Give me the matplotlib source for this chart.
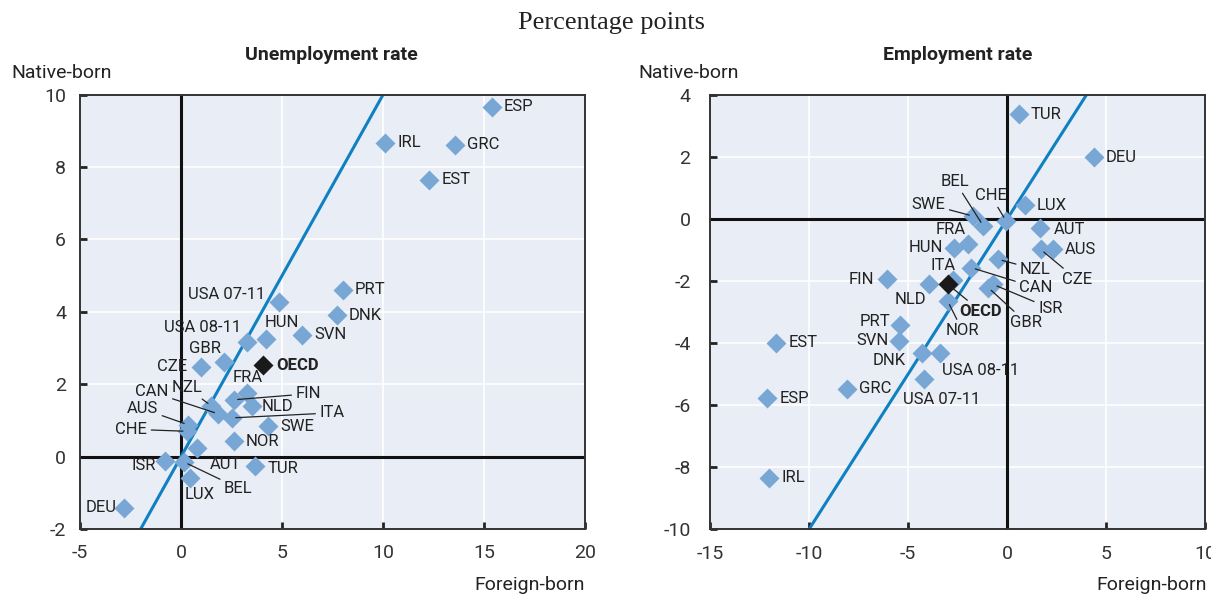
import matplotlib.pyplot as plt

# change in unemployment rate (percentage points): foreign-born vs native-born
unemp_countries = ["ESP", "IRL", "GRC", "EST", "PRT", "DNK", "SVN", "USA 07-11", "HUN",
                   "USA 08-11", "GBR", "CZE", "FRA", "FIN", "NLD", "ITA", "SWE", "NOR",
                   "TUR", "AUT", "BEL", "LUX", "ISR", "DEU", "NZL", "CAN", "AUS", "CHE"]
unemp_foreign = [15.4, 10.1, 13.55, 12.3, 8.0, 7.7, 6.0, 4.85, 4.2,
                 3.25, 2.13, 1.0, 3.25, 2.6, 3.5, 2.5, 4.3, 2.6,
                 3.65, 0.78, 0.15, 0.45, -0.8, -2.8, 1.5, 1.85, 0.35, 0.3]
unemp_native = [9.67, 8.67, 8.62, 7.65, 4.61, 3.9, 3.37, 4.28, 3.26,
                3.16, 2.62, 2.49, 1.76, 1.57, 1.39, 1.07, 0.84, 0.42,
                -0.27, 0.24, -0.15, -0.59, -0.13, -1.41, 1.4, 1.18, 0.88, 0.7]
unemp_oecd = (4.05, 2.52)

# change in employment rate (percentage points)
emp_countries = ["TUR", "DEU", "LUX", "AUT", "AUS", "CZE", "NZL", "CAN", "ISR", "GBR",
                 "CHE", "BEL", "SWE", "FRA", "HUN", "ITA", "NOR", "NLD", "FIN", "PRT",
                 "SVN", "DNK", "USA 08-11", "USA 07-11", "GRC", "EST", "ESP", "IRL"]
emp_foreign = [0.6, 4.4, 0.9, 1.65, 2.3, 1.7, -0.45, -1.8, -0.7, -0.95,
               -0.05, -1.2, -1.7, -1.95, -2.7, -2.75, -3.0, -3.95, -6.05, -5.4,
               -5.45, -4.3, -3.4, -4.2, -8.1, -11.65, -12.1, -12.0]
emp_native = [3.39, 2.0, 0.45, -0.27, -0.97, -0.97, -1.29, -1.56, -2.1, -2.2,
              -0.05, -0.21, 0.1, -0.8, -0.91, -1.95, -2.63, -2.1, -1.94, -3.42,
              -3.92, -4.3, -4.3, -5.16, -5.46, -3.98, -5.78, -8.33]
emp_oecd = (-2.98, -2.1)

# label placement: offset in pixels (dx, dy), horizontal alignment, leader line
unemp_layout = {
    "USA 07-11": (-14, 7, "right", False), "HUN": (16, 16, "center", False),
    "USA 08-11": (-6, 15, "right", False), "GBR": (-19, 13, "center", False),
    "CZE": (-14, 0, "right", False), "FRA": (1, 15, "center", False),
    "FIN": (62, 6, "left", True), "NLD": (10, 0, "left", False),
    "ITA": (88, 5, "left", True), "AUT": (13, -17, "left", False),
    "BEL": (40, -26, "left", True), "LUX": (9, -17, "center", False),
    "ISR": (-9, -4, "right", False), "DEU": (-8, 0, "right", False),
    "NZL": (-24, 18, "center", True), "CAN": (-50, 22, "right", True),
    "AUS": (-30, 16, "right", True), "CHE": (-40, 2, "right", True),
    "TUR": (13, -2, "left", False),
}
emp_layout = {
    "AUT": (14, -2, "left", False), "CZE": (21, -30, "left", True),
    "NZL": (22, -10, "left", True), "CAN": (48, -20, "left", True),
    "ISR": (45, -24, "left", True), "GBR": (22, -35, "left", True),
    "CHE": (-15, 25, "center", True), "BEL": (-28, 44, "center", True),
    "SWE": (-28, 12, "right", True), "FRA": (-18, 15, "center", False),
    "HUN": (-11, 0, "right", False), "ITA": (-9, 14, "center", False),
    "NOR": (15, -30, "center", True), "NLD": (-18, -15, "center", False),
    "FIN": (-13, 0, "right", False), "PRT": (-10, 4, "right", False),
    "SVN": (-10, 0, "right", False), "DNK": (-16, -8, "right", False),
    "USA 08-11": (2, -18, "left", False), "USA 07-11": (18, -20, "center", False),
}

plt.rcParams["font.family"] = ["Roboto", "DejaVu Sans"]
plt.rcParams["axes.unicode_minus"] = False

BG = "#e9edf5"
DIAMOND = "#78a7d6"
LINE45 = "#0f80c2"
TXT = "#222222"


def panel(ax, xs, ys, names, oecd, layout, xlim, ylim, xticks, yticks, ypad):
    ax.set_facecolor(BG)
    ax.set_xlim(*xlim)
    ax.set_ylim(*ylim)
    ax.set_xticks(xticks)
    ax.set_yticks(yticks)
    ax.grid(True, color="white", lw=1.2, zorder=0)
    ax.set_axisbelow(True)
    for s in ax.spines.values():
        s.set_color("#333333")
        s.set_linewidth(1.4)
    ax.tick_params(direction="in", length=5, width=2, color="#222222",
                   labelsize=14, labelcolor="#333333")
    ax.tick_params(axis="x", pad=11)
    ax.tick_params(axis="y", pad=ypad)
    ax.axhline(0, color="#111111", lw=2.2, zorder=1)
    ax.axvline(0, color="#111111", lw=2.2, zorder=1)
    lo, hi = min(xlim[0], ylim[0]), max(xlim[1], ylim[1])
    ax.plot([lo, hi], [lo, hi], color=LINE45, lw=2.2, zorder=2)
    ax.plot(xs, ys, "D", ms=10, color=DIAMOND, mec="none", zorder=3)
    ax.plot([oecd[0]], [oecd[1]], "D", ms=10, color="#1a1a1a", mec="none", zorder=4)

    for name, x, y in zip(names, xs, ys):
        dx, dy, ha, leader = layout.get(name, (12, 0, "left", False))
        arrow = None
        if leader:
            arrow = dict(arrowstyle="-", color="#222222", lw=0.9,
                         shrinkA=1, shrinkB=3)
        ax.annotate(name, (x, y), xytext=(dx, dy), textcoords="offset pixels",
                    ha=ha, va="center", fontsize=12, color=TXT,
                    arrowprops=arrow, zorder=5)
    return ax


fig = plt.figure(figsize=(12.11, 5.96), dpi=100)

ax1 = fig.add_axes([0.0661, 0.1124, 0.4170, 0.7287])
panel(ax1, unemp_foreign, unemp_native, unemp_countries, unemp_oecd, unemp_layout,
      (-5, 20), (-2, 10), [-5, 0, 5, 10, 15, 20], [-2, 0, 2, 4, 6, 8, 10], 10)
ax1.annotate("OECD", unemp_oecd, xytext=(13, 0), textcoords="offset pixels",
             ha="left", va="center", fontsize=12, fontweight="bold", color=TXT, zorder=5)

ax2 = fig.add_axes([0.5863, 0.1119, 0.4087, 0.7282])
panel(ax2, emp_foreign, emp_native, emp_countries, emp_oecd, emp_layout,
      (-15, 10), (-10, 4), [-15, -10, -5, 0, 5, 10], [-10, -8, -6, -4, -2, 0, 2, 4], 14)
ax2.annotate("OECD", emp_oecd, xytext=(33, -27), textcoords="offset pixels",
             ha="center", va="center", fontsize=12, fontweight="bold", color=TXT,
             arrowprops=dict(arrowstyle="-", color="#222222", lw=0.9, shrinkA=1, shrinkB=3),
             zorder=5)

fig.text(0.505, 0.962, "Percentage points", ha="center", va="center",
         fontsize=19, family=["Liberation Serif", "DejaVu Serif"], color=TXT)
fig.text(0.274, 0.908, "Unemployment rate", ha="center", va="center",
         fontsize=14, fontweight="bold", color=TXT)
fig.text(0.791, 0.908, "Employment rate", ha="center", va="center",
         fontsize=14, fontweight="bold", color=TXT)
fig.text(0.009, 0.877, "Native-born", ha="left", va="center", fontsize=14, color=TXT)
fig.text(0.527, 0.877, "Native-born", ha="left", va="center", fontsize=14, color=TXT)
fig.text(0.483, 0.018, "Foreign-born", ha="right", va="center", fontsize=14, color=TXT)
fig.text(0.997, 0.018, "Foreign-born", ha="right", va="center", fontsize=14, color=TXT)

fig.savefig("out.png", dpi=100)
